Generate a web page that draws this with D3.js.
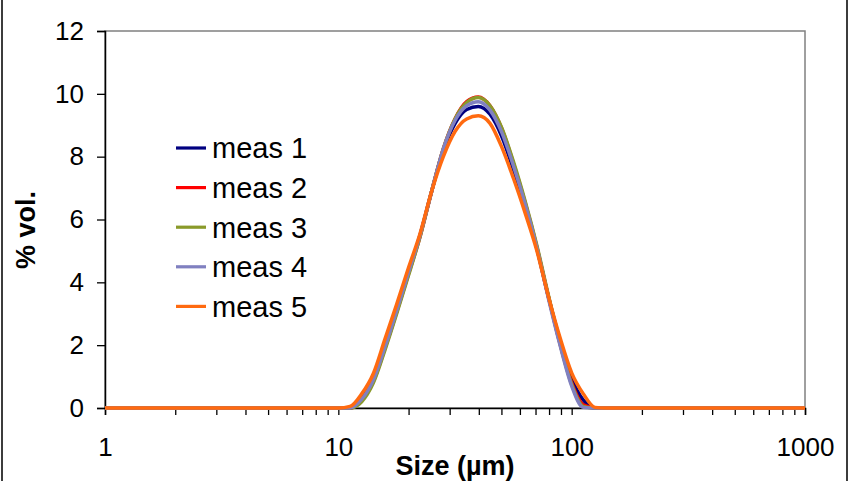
<!DOCTYPE html>
<html>
<head>
<meta charset="utf-8">
<script src="https://cdn.jsdelivr.net/npm/d3@7"></script>
<style>
  html, body { margin: 0; padding: 0; background: #fff; }
  svg { display: block; }
  text { font-family: "Liberation Sans", Arial, sans-serif; fill: #000; }
</style>
</head>
<body>
<svg id="chart" width="851" height="481"></svg>
<script>
// ---- data ----
const sizes = [1, 10.0, 11.22, 12.59, 14.13, 15.85, 17.78, 19.95, 22.39, 25.12, 28.18, 31.62, 35.48, 39.81, 44.67, 50.12, 56.23, 63.10, 70.79, 79.43, 89.13, 100.0, 112.2, 125.9, 141.3, 1000];
const meas1 = [0, 0, 0, 0.30, 0.90, 1.95, 3.10, 4.30, 5.50, 6.90, 8.20, 9.05, 9.50, 9.60, 9.35, 8.65, 7.60, 6.40, 5.10, 3.55, 2.15, 0.95, 0.25, 0, 0, 0];
const meas2 = [0, 0, 0, 0.25, 0.85, 1.90, 3.05, 4.25, 5.45, 6.90, 8.25, 9.20, 9.75, 9.90, 9.62, 8.90, 7.80, 6.55, 5.15, 3.55, 2.05, 0.80, 0.10, 0, 0, 0];
const meas3 = [0, 0, 0, 0.20, 0.80, 1.85, 3.00, 4.20, 5.45, 6.90, 8.25, 9.20, 9.72, 9.88, 9.62, 8.92, 7.85, 6.60, 5.20, 3.60, 2.05, 0.75, 0.05, 0, 0, 0];
const meas4 = [0, 0, 0, 0.28, 0.90, 1.95, 3.10, 4.30, 5.50, 6.90, 8.25, 9.15, 9.62, 9.75, 9.48, 8.78, 7.72, 6.50, 5.12, 3.50, 2.00, 0.70, 0.02, 0, 0, 0];
const meas5 = [0, 0, 0.05, 0.45, 1.10, 2.20, 3.30, 4.45, 5.55, 6.90, 8.00, 8.80, 9.20, 9.30, 9.06, 8.31, 7.32, 6.22, 5.03, 3.56, 2.24, 1.12, 0.45, 0.02, 0, 0];
const seriesNames = ["meas 1", "meas 2", "meas 3", "meas 4", "meas 5"];
const seriesValues = [meas1, meas2, meas3, meas4, meas5];
const seriesColors = ["#000080", "#ff0000", "#8a9a2a", "#8080c0", "#ff6a10"];
const yTicks = [0, 2, 4, 6, 8, 10, 12];
const xMajorTicks = [1, 10, 100, 1000];
const xTitle = "Size (µm)";
const yTitle = "% vol.";

// ---- layout ----
const svg = d3.select("#chart");
const L = 105, R = 805, T = 31, B = 408;
const x = d3.scaleLog().domain([1, 1000]).range([L, R]);
const y = d3.scaleLinear().domain([0, 12]).range([B, T]);

// outer chart border (left/right visible)
svg.append("line").attr("x1", 2).attr("x2", 2).attr("y1", 0).attr("y2", 481)
  .attr("stroke", "#3c3c3c").attr("stroke-width", 2);
svg.append("line").attr("x1", 847).attr("x2", 847).attr("y1", 0).attr("y2", 481)
  .attr("stroke", "#3c3c3c").attr("stroke-width", 2);

// plot area border
svg.append("rect").attr("x", L).attr("y", T).attr("width", R - L).attr("height", B - T)
  .attr("fill", "none").attr("stroke", "#808080").attr("stroke-width", 1.5);

// minor ticks
const minorTicks = [];
[1, 10, 100].forEach(d => { for (let k = 2; k <= 9; k++) minorTicks.push(d * k); });

// x axis
const xAxis = d3.axisBottom(x).tickValues(xMajorTicks.concat(minorTicks))
  .tickFormat(d => xMajorTicks.includes(d) ? String(d) : "")
  .tickSize(7).tickPadding(23);
const gx = svg.append("g").attr("transform", `translate(0,${B})`).call(xAxis);
gx.select(".domain").attr("stroke", "#000").attr("stroke-width", 1.5);
gx.selectAll(".tick line").attr("stroke", "#000").attr("stroke-width", 1.3);
gx.selectAll(".tick text").style("font-size", "26px").attr("font-family", "Liberation Sans, Arial, sans-serif");

// y axis
const yAxis = d3.axisLeft(y).tickValues(yTicks).tickSize(8).tickPadding(13);
const gy = svg.append("g").attr("transform", `translate(${L},0)`).call(yAxis);
gy.select(".domain").attr("stroke", "#000").attr("stroke-width", 1.5);
gy.selectAll(".tick line").attr("stroke", "#000").attr("stroke-width", 1.3);
gy.selectAll(".tick text").style("font-size", "26px").attr("font-family", "Liberation Sans, Arial, sans-serif");

// series
const line = d3.line().x(d => x(d[0])).y(d => y(d[1])).curve(d3.curveMonotoneX);
seriesValues.forEach((vals, i) => {
  svg.append("path")
    .datum(sizes.map((s, j) => [s, vals[j]]))
    .attr("fill", "none")
    .attr("stroke", seriesColors[i])
    .attr("stroke-width", 3.5)
    .attr("stroke-linejoin", "round")
    .attr("d", line);
});

// legend
const lg = svg.append("g");
seriesNames.forEach((n, i) => {
  const cy = 148 + i * 39.6;
  lg.append("line").attr("x1", 176).attr("x2", 206).attr("y1", cy).attr("y2", cy)
    .attr("stroke", seriesColors[i]).attr("stroke-width", 3.2);
  lg.append("text").attr("x", 212).attr("y", cy).attr("dy", "0.36em")
    .style("font-size", "29px").text(n);
});

// axis titles
svg.append("text").attr("x", 455).attr("y", 475).attr("text-anchor", "middle")
  .style("font-size", "27px").style("font-weight", "bold").text(xTitle);
svg.append("text").attr("transform", "translate(35,230) rotate(-90)")
  .attr("text-anchor", "middle").style("font-size", "27px").style("font-weight", "bold").text(yTitle);
</script>
</body>
</html>
